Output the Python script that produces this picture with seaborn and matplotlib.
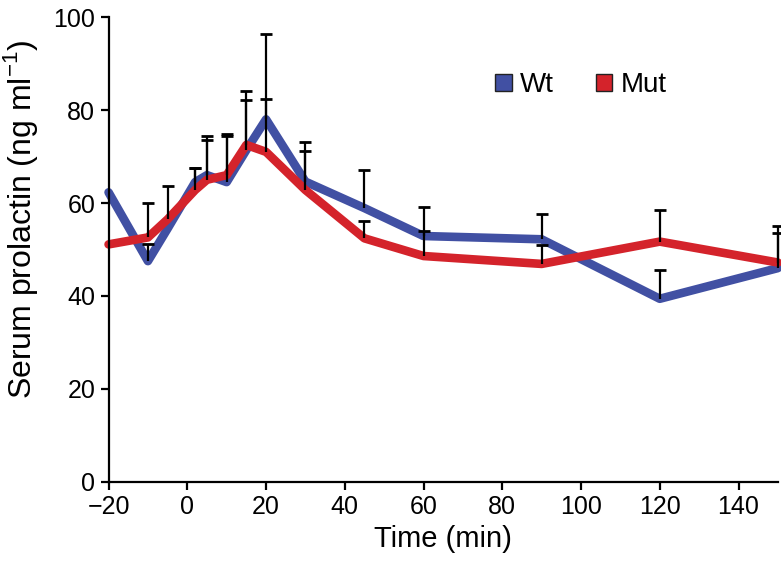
import numpy as np
import pandas as pd
import seaborn as sns
import matplotlib.pyplot as plt
from matplotlib.patches import Patch

# time points (min) and mean serum prolactin (ng/ml)
time = [-20, -10, -5, 2, 5, 10, 15, 20, 30, 45, 60, 90, 120, 150]
wt = [62.3, 47.5, 54.5, 64.5, 66.0, 64.5, 71.4, 78.0, 64.6, 58.9, 52.9, 52.2, 39.4, 46.0]
mut = [51.1, 52.6, 56.5, 62.8, 65.0, 66.0, 72.5, 71.0, 62.8, 52.4, 48.6, 46.9, 51.7, 47.2]
# upper error bars (SEM), only the upper half is drawn
wt_err = [0.0, 3.7, 0.0, 3.0, 8.4, 10.3, 10.8, 18.4, 8.6, 8.3, 6.3, 5.4, 6.2, 7.5]
mut_err = [0.0, 7.5, 7.2, 4.8, 8.5, 8.4, 11.7, 11.3, 8.4, 3.8, 5.4, 4.0, 6.9, 7.9]

blue = '#4150a3'
red = '#d4232b'

df = pd.DataFrame({
    'time': time * 2,
    'prolactin': wt + mut,
    'group': ['Wt'] * len(time) + ['Mut'] * len(time),
})

sns.set_style('ticks', {'axes.labelcolor': 'black', 'text.color': 'black',
                        'xtick.color': 'black', 'ytick.color': 'black',
                        'axes.edgecolor': 'black'})
plt.rcParams['font.family'] = ['Liberation Sans', 'DejaVu Sans']
plt.rcParams['mathtext.fontset'] = 'custom'
plt.rcParams['mathtext.rm'] = 'Liberation Sans'

fig = plt.figure(figsize=(7.81, 5.69), dpi=100)
ax = fig.add_axes([0.139, 0.153, 0.857, 0.817])

sns.lineplot(data=df, x='time', y='prolactin', hue='group',
             palette={'Wt': blue, 'Mut': red}, linewidth=6.2,
             legend=False, ax=ax, zorder=2)
for ln in ax.lines:
    ln.set_clip_on(False)

# upper-only error bars drawn over the lines
for vals, err in [(wt, wt_err), (mut, mut_err)]:
    t = np.array([x for x, e in zip(time, err) if e > 0])
    lo = np.array([v for v, e in zip(vals, err) if e > 0])
    hi = lo + np.array([e for e in err if e > 0])
    ax.vlines(t, lo, hi, colors='black', linewidth=1.6, zorder=3, clip_on=False)
    ax.plot(t, hi, linestyle='none', marker='_', markersize=8,
            markeredgewidth=2.0, color='black', zorder=3, clip_on=False)

ax.set_xlim(-20, 150)
ax.set_ylim(0, 100)
ax.set_xticks(range(-20, 141, 20))
ax.set_yticks(range(0, 101, 20))
ax.tick_params(labelsize=18, width=1.6, length=6, color='black', labelcolor='black')
ax.set_xlabel('Time (min)', fontsize=21, labelpad=4)
ax.set_ylabel(r'Serum prolactin (ng ml$^{\mathrm{-1}}$)', fontsize=23)
ax.yaxis.set_label_coords(-0.103, 0.565)
for s in ['left', 'bottom']:
    ax.spines[s].set_linewidth(1.6)
sns.despine(ax=ax)

handles = [Patch(facecolor=blue, edgecolor='#222222', label='Wt'),
           Patch(facecolor=red, edgecolor='#222222', label='Mut')]
ax.legend(handles=handles, ncol=2, frameon=False, fontsize=20,
          loc='upper left', bbox_to_anchor=(0.54, 0.935),
          handlelength=0.6, handleheight=0.6, handletextpad=0.3,
          columnspacing=1.5)

fig.savefig('out.png', dpi=100)
